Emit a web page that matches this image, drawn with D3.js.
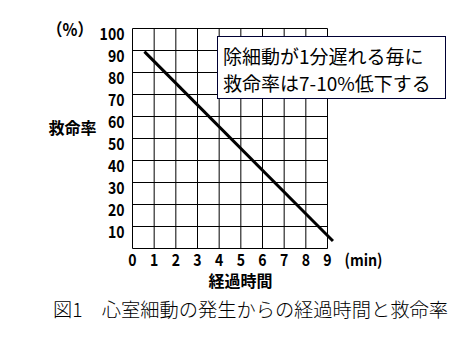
<!DOCTYPE html>
<html>
<head>
<meta charset="utf-8">
<script src="https://cdn.jsdelivr.net/npm/d3@7"></script>
<style>
  body { margin: 0; background: #fff; }
  svg { display: block; }
  text { font-family: "Noto Sans CJK JP", "Noto Sans", sans-serif; fill: #000; }
</style>
</head>
<body>
<svg id="chart" width="474" height="337"></svg>
<script>
// Data
const xTicks = [0, 1, 2, 3, 4, 5, 6, 7, 8, 9];
const yTicks = [10, 20, 30, 40, 50, 60, 70, 80, 90, 100];
const lineTime = [0.55, 9.25];      // minutes
const lineSurvival = [89.5, 3.4];    // survival rate (%)
const annotationLines = ["除細動が1分遅れる毎に", "救命率は7-10%低下する"];
const xLabel = "経過時間";
const yLabel = "救命率";
const yUnit = "（%）";
const xUnit = "(min)";
const caption = "図1　心室細動の発生からの経過時間と救命率";

const svg = d3.select("#chart");
const x = d3.scaleLinear().domain([0, 9]).range([132.5, 327.5]);
const y = d3.scaleLinear().domain([0, 100]).range([248.5, 28.5]);

// Grid
const g = svg.append("g");
g.selectAll("line.v").data(xTicks).join("line")
  .attr("x1", d => x(d)).attr("x2", d => x(d))
  .attr("y1", y(0)).attr("y2", y(100))
  .attr("stroke", "#000").attr("stroke-width", 1);
g.selectAll("line.h").data([0].concat(yTicks)).join("line")
  .attr("x1", x(0)).attr("x2", x(9))
  .attr("y1", d => y(d)).attr("y2", d => y(d))
  .attr("stroke", "#000").attr("stroke-width", 1);

// Y tick labels
svg.append("g").selectAll("text").data(yTicks).join("text")
  .attr("x", 124.5).attr("y", d => y(d) + 11.5)
  .attr("text-anchor", "end")
  .attr("font-size", 16.5).attr("font-weight", 600)
  .attr("textLength", d => String(d).length * 8.3)
  .attr("lengthAdjust", "spacingAndGlyphs")
  .text(d => d);

// X tick labels
svg.append("g").selectAll("text").data(xTicks).join("text")
  .attr("x", d => x(d)).attr("y", 266)
  .attr("text-anchor", "middle")
  .attr("font-size", 16.5).attr("font-weight", 600)
  .attr("textLength", 8.3).attr("lengthAdjust", "spacingAndGlyphs")
  .text(d => d);

// Units and axis titles
svg.append("text").attr("x", 382.5).attr("y", 266).attr("text-anchor", "end")
  .attr("font-size", 16).attr("font-weight", 600)
  .attr("textLength", 38).attr("lengthAdjust", "spacingAndGlyphs").text(xUnit);
svg.append("text").attr("x", 47).attr("y", 35.5)
  .attr("font-size", 17).attr("font-weight", "bold")
  .attr("textLength", 46).attr("lengthAdjust", "spacingAndGlyphs").text(yUnit);
svg.append("text").attr("x", 72.5).attr("y", 134).attr("text-anchor", "middle")
  .attr("font-size", 16).attr("font-weight", "bold").text(yLabel);
svg.append("text").attr("x", 240.5).attr("y", 286.5).attr("text-anchor", "middle")
  .attr("font-size", 16).attr("font-weight", "bold").text(xLabel);

// Data line
const pts = lineTime.map((t, i) => [t, lineSurvival[i]]);
svg.append("path")
  .attr("d", d3.line().x(d => x(d[0])).y(d => y(d[1]))(pts))
  .attr("fill", "none").attr("stroke", "#000").attr("stroke-width", 3);

// Annotation box
svg.append("rect").attr("x", 217.5).attr("y", 36.5).attr("width", 228).attr("height", 62)
  .attr("fill", "#fff").attr("stroke", "#000033").attr("stroke-width", 1);
svg.append("g").selectAll("text").data(annotationLines).join("text")
  .attr("x", 223).attr("y", (d, i) => 64 + i * 26.5)
  .attr("font-size", 19)
  .text(d => d);

// Caption
svg.append("text").attr("x", 53).attr("y", 317)
  .attr("font-size", 19).attr("font-weight", 300)
  .attr("textLength", 395).attr("lengthAdjust", "spacingAndGlyphs")
  .text(caption);
</script>
</body>
</html>
